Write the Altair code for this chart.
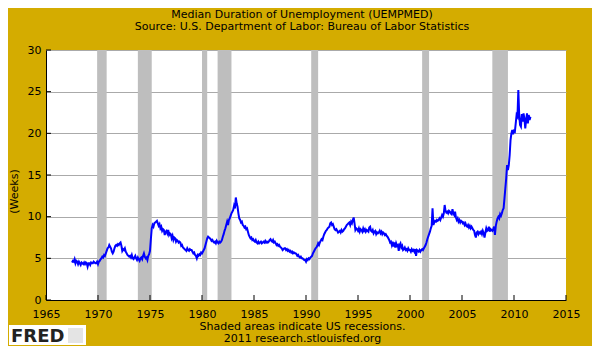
import altair as alt
import pandas as pd

# ---------------- text ----------------
TITLE_LINES = ["Median Duration of Unemployment (UEMPMED)",
               "Source: U.S. Department of Labor: Bureau of Labor Statistics"]
FOOTER_LINES = ["Shaded areas indicate US recessions.", "2011 research.stlouisfed.org"]
Y_TITLE = "(Weeks)"
LOGO_TEXT = "FRED"

X_TICKS = [1965, 1970, 1975, 1980, 1985, 1990, 1995, 2000, 2005, 2010, 2015]
Y_TICKS = [0, 5, 10, 15, 20, 25, 30]

# ---------------- data (monthly, weeks) ----------------
SERIES_START_YEAR = 1967
SERIES_START_MONTH = 7

weeks_1960s = [
    4.5, 4.7, 4.6, 4.9, 4.4, 4.7,                                   # 1967 Jul-Dec
    4.6, 4.3, 4.6, 4.4, 4.2, 4.5, 4.4, 4.3, 4.5, 4.3, 4.5, 4.4,     # 1968
    4.0, 4.4, 4.4, 4.2, 4.5, 4.4, 4.4, 4.6, 4.5, 4.4, 4.4, 4.6,     # 1969
]
weeks_1970s = [
    4.3, 4.6, 4.7, 4.9, 5.0, 5.2, 5.1, 5.4, 5.3, 5.6, 5.9, 6.2,     # 1970
    6.3, 6.6, 6.4, 6.2, 5.8, 5.6, 5.8, 6.2, 6.5, 6.6, 6.5, 6.7,     # 1971
    6.6, 6.8, 6.9, 6.5, 5.9, 6.1, 6.0, 6.2, 5.8, 5.6, 5.4, 5.3,     # 1972
    5.2, 5.3, 5.1, 5.4, 5.0, 4.9, 5.1, 5.3, 5.0, 4.8, 5.1, 4.9,     # 1973
    4.7, 5.0, 5.1, 4.9, 5.3, 5.6, 5.2, 5.0, 5.1, 4.8, 5.3, 5.5,     # 1974
    5.9, 7.3, 8.6, 9.0, 8.8, 9.2, 9.3, 9.4, 9.5, 9.2, 8.9, 9.1,     # 1975
    8.6, 8.8, 8.3, 8.5, 8.4, 7.8, 8.2, 8.3, 8.0, 8.4, 7.8, 8.0,     # 1976
    7.9, 7.4, 7.7, 7.2, 7.5, 7.4, 7.0, 7.2, 7.1, 6.9, 7.0, 6.9,     # 1977
    6.5, 6.6, 6.3, 6.2, 6.1, 6.0, 5.9, 6.2, 6.0, 5.9, 6.1, 6.0,     # 1978
    6.0, 5.8, 5.6, 5.7, 5.4, 5.3, 5.0, 5.4, 5.3, 5.5, 5.4, 5.7,     # 1979
]
weeks_1980s = [
    5.6, 5.8, 6.0, 6.2, 6.6, 7.0, 7.4, 7.6, 7.5, 7.4, 7.3, 7.1,     # 1980
    7.2, 7.0, 6.9, 7.0, 6.8, 7.1, 6.9, 6.8, 7.0, 6.9, 7.0, 7.2,     # 1981
    7.6, 7.9, 8.3, 8.6, 9.0, 9.4, 9.0, 9.6, 9.8, 10.1, 10.4, 10.6,  # 1982
    10.8, 11.3, 11.0, 12.3, 11.6, 11.2, 10.4, 9.8, 9.6, 9.3, 9.4, 9.0,  # 1983
    8.9, 8.7, 8.8, 8.5, 8.6, 8.2, 7.8, 7.6, 7.4, 7.5, 7.2, 7.3,     # 1984
    7.1, 7.0, 7.2, 6.9, 6.8, 7.0, 6.8, 6.9, 7.0, 6.8, 6.9, 7.0,     # 1985
    6.9, 7.1, 6.9, 7.0, 6.9, 7.0, 7.2, 7.3, 7.1, 7.0, 7.2, 6.9,     # 1986
    7.0, 6.8, 6.6, 6.7, 6.5, 6.6, 6.4, 6.3, 6.2, 6.0, 6.1, 6.2,     # 1987
    6.2, 6.0, 6.1, 5.9, 6.0, 5.8, 5.9, 5.7, 5.8, 5.6, 5.7, 5.6,     # 1988
    5.6, 5.5, 5.3, 5.4, 5.2, 5.1, 5.2, 5.0, 5.0, 4.9, 4.8, 4.8,     # 1989
]
weeks_1990s = [
    4.6, 4.9, 4.8, 5.0, 4.9, 5.1, 5.2, 5.3, 5.6, 5.8, 6.0, 6.2,     # 1990
    6.3, 6.5, 6.8, 6.6, 6.9, 7.1, 7.3, 7.2, 7.6, 7.9, 8.1, 8.3,     # 1991
    8.4, 8.6, 8.7, 8.8, 9.2, 9.3, 9.0, 9.1, 8.8, 8.5, 8.4, 8.5,     # 1992
    8.3, 8.1, 8.2, 8.3, 8.1, 8.4, 8.2, 8.3, 8.5, 8.6, 8.8, 9.0,     # 1993
    9.1, 9.2, 9.3, 9.0, 9.4, 9.2, 9.6, 9.9, 9.2, 8.4, 8.6, 8.5,     # 1994
    8.3, 8.6, 8.2, 8.5, 8.4, 8.2, 8.6, 8.3, 8.5, 8.2, 8.4, 8.3,     # 1995
    8.2, 8.7, 8.8, 8.3, 8.2, 8.4, 8.0, 8.2, 8.3, 7.9, 8.1, 8.0,     # 1996
    8.1, 8.3, 8.0, 8.2, 7.9, 8.1, 8.0, 7.8, 7.9, 7.7, 7.6, 7.4,     # 1997
    7.2, 6.9, 7.0, 6.6, 7.0, 6.4, 6.9, 6.3, 6.8, 6.5, 6.6, 5.9,     # 1998
    6.6, 6.8, 6.3, 6.5, 6.0, 6.1, 6.3, 6.0, 6.1, 5.9, 6.2, 6.0,     # 1999
]
weeks_2000s = [
    6.0, 5.8, 6.1, 5.9, 6.0, 5.8, 6.1, 5.3, 6.0, 5.9, 5.8, 6.0,     # 2000
    5.8, 6.0, 6.1, 6.0, 6.2, 6.4, 6.6, 6.9, 7.3, 7.6, 7.9, 8.2,     # 2001
    8.6, 8.9, 11.0, 9.0, 9.3, 9.5, 9.4, 9.6, 9.5, 9.6, 9.8, 9.6,    # 2002
    9.9, 10.2, 10.0, 10.4, 11.4, 10.7, 10.5, 10.6, 10.4, 10.7, 10.6, 10.4,  # 2003
    10.3, 10.9, 10.4, 10.2, 10.6, 9.9, 9.6, 9.8, 9.4, 9.6, 9.3, 9.5,  # 2004
    9.4, 9.2, 9.3, 9.0, 9.2, 8.9, 8.8, 9.0, 8.7, 8.9, 8.6, 8.8,     # 2005
    8.6, 8.4, 8.3, 7.8, 7.5, 8.1, 8.2, 7.9, 8.1, 8.0, 8.2, 7.9,     # 2006
    8.3, 8.0, 7.5, 8.1, 8.6, 8.3, 8.4, 8.8, 8.2, 8.5, 8.4, 8.3,     # 2007
    8.5, 8.8, 7.8, 8.9, 9.4, 9.8, 10.0, 9.8, 10.3, 10.1, 10.4, 10.8,  # 2008
    11.0, 12.2, 13.4, 14.6, 16.2, 15.6, 16.2, 17.4, 19.2, 20.0, 20.4, 19.9,  # 2009
]
weeks_2010s = [
    20.3, 20.2, 21.2, 22.2, 22.0, 25.2, 22.2, 21.0, 20.8, 22.3, 21.4, 22.4,  # 2010
    21.8, 20.6, 21.6, 22.4, 21.2, 22.2, 21.6, 22.0,                  # 2011 Jan-Aug
]

# NBER recessions (year-month)
RECESSION_START = ["1969-12", "1973-11", "1980-01", "1981-07", "1990-07", "2001-03", "2007-12"]
RECESSION_END = ["1970-11", "1975-03", "1980-07", "1982-11", "1991-03", "2001-11", "2009-06"]

# ---------------- build tables ----------------
def ym_to_year(s):
    y, m = s.split("-")
    return int(y) + (int(m) - 1) / 12.0

values = weeks_1960s + weeks_1970s + weeks_1980s + weeks_1990s + weeks_2000s + weeks_2010s
times = [SERIES_START_YEAR + (SERIES_START_MONTH - 1 + i) / 12.0 for i in range(len(values))]
series_df = pd.DataFrame({"t": times, "v": values})
rec_df = pd.DataFrame({"t": [ym_to_year(s) for s in RECESSION_START],
                       "t2": [ym_to_year(s) for s in RECESSION_END]})
xtick_df = pd.DataFrame({"t": X_TICKS})
ytick_df = pd.DataFrame({"v": Y_TICKS})

FONT = "DejaVu Sans"
GOLD = "#D4AC00"
W, H = 520, 250

x_scale = alt.Scale(domain=[1965, 2015], nice=False, zero=False)
y_scale = alt.Scale(domain=[0, 30], nice=False)

x_axis = alt.Axis(values=X_TICKS, format="d", ticks=False, tickSize=0, labelPadding=8,
                  labelFlush=False, labelOverlap=False, grid=False,
                  domainColor="black", domainWidth=1,
                  labelFont=FONT, labelFontSize=11, labelColor="black",
                  title=FOOTER_LINES, titleFont=FONT, titleFontSize=11, titleFontWeight="normal",
                  titleColor="black", titleX=256, titleY=20, titleAlign="center",
                  titleBaseline="top", titleLineHeight=12)
y_axis = alt.Axis(values=Y_TICKS, ticks=False, tickSize=0, labelPadding=5,
                  labelFlush=False, labelOverlap=False, grid=True,
                  gridColor="#AAAAAA", gridWidth=1,
                  domainColor="black", domainWidth=1,
                  labelFont=FONT, labelFontSize=11, labelColor="black",
                  title=Y_TITLE, titleFont=FONT, titleFontSize=11, titleFontWeight="normal",
                  titleColor="black", titleX=-32, titleY=141, titleAngle=270,
                  titleAlign="center", titleBaseline="middle")

X = alt.X("t:Q", scale=x_scale, axis=x_axis)
Y = alt.Y("v:Q", scale=y_scale, axis=y_axis)

bands = alt.Chart(rec_df).mark_rect(color="#BEBEBE").encode(
    x=X, x2="t2:Q", y=alt.value(0), y2=alt.value(H))

line = alt.Chart(series_df).mark_line(color="#0000FF", strokeWidth=2).encode(x=X, y=Y)

xticks = alt.Chart(xtick_df).mark_rule(color="black", strokeWidth=1).encode(
    x=X, y=alt.value(H), y2=alt.value(H - 5))
yticks = alt.Chart(ytick_df).mark_rule(color="black", strokeWidth=1).encode(
    y=Y, x=alt.value(0), x2=alt.value(5))

logo_df = pd.DataFrame({"label": [LOGO_TEXT]})
logo_box = alt.Chart(logo_df).mark_rect(color="white").encode(
    x=alt.value(-37), x2=alt.value(40), y=alt.value(275), y2=alt.value(295))
logo_text = alt.Chart(logo_df).mark_text(
    font=FONT, fontSize=18, fontWeight="bold", color="#222222",
    align="left", baseline="alphabetic").encode(
    text="label:N", x=alt.value(-35), y=alt.value(292))
logo_icon = alt.Chart(logo_df).mark_rect(color="#E4E4E4").encode(
    x=alt.value(22), x2=alt.value(37), y=alt.value(278), y2=alt.value(293))

# total footprint 584 x 338 so the page never scrolls
chart = alt.layer(bands, line, xticks, yticks, logo_box, logo_text, logo_icon).properties(
    width=W, height=H,
    background=GOLD,
    autosize=alt.AutoSizeParams(type="none"),
    padding={"left": 38, "top": 42, "right": 26, "bottom": 46},
    title=alt.TitleParams(text=TITLE_LINES, font=FONT, fontSize=11, fontWeight="normal",
                          color="black", anchor="middle", frame="group", offset=12,
                          lineHeight=12.5, dx=-4),
).configure_view(stroke=None, fill="white")

chart.save("out.html", embed_options={"renderer": "svg", "actions": False})
